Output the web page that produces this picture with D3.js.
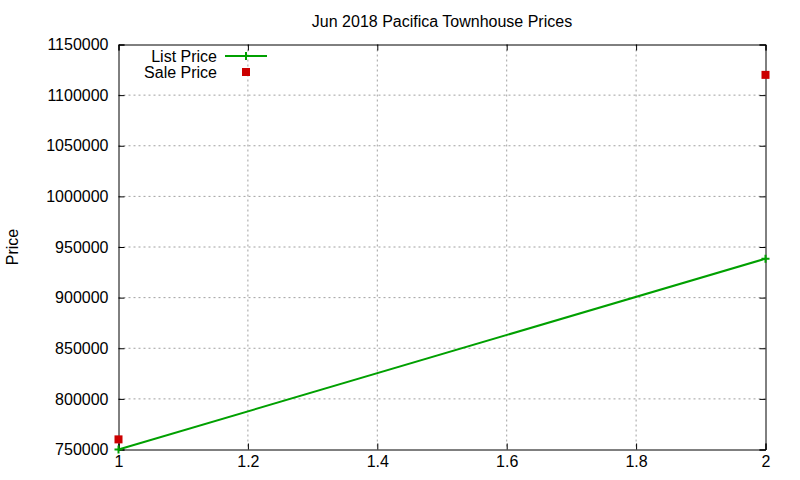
<!DOCTYPE html>
<html>
<head>
<meta charset="utf-8">
<script src="https://cdn.jsdelivr.net/npm/d3@7"></script>
<style>
  body { margin: 0; background: #fff; }
  svg { font-family: "Liberation Sans", Arial, sans-serif; font-size: 16px; }
</style>
</head>
<body>
<div id="chart"></div>
<script>
// data
var listX = [1, 2]
var listPrice = [750000, 938500]
var saleX = [1, 2]
var salePrice = [760000, 1120000]
var xTicks = [1, 1.2, 1.4, 1.6, 1.8, 2]
var yTicks = [750000, 800000, 850000, 900000, 950000, 1000000, 1050000, 1100000, 1150000]

var width = 800, height = 480
var margin = { top: 44.5, right: 34.5, bottom: 30.5, left: 118.5 }
var w = width - margin.left - margin.right
var h = height - margin.top - margin.bottom

var svg = d3.select('#chart').append('svg')
    .attr('width', width)
    .attr('height', height)

var x = d3.scaleLinear().domain([1, 2]).range([0, w])
var y = d3.scaleLinear().domain([750000, 1150000]).range([h, 0])

var g = svg.append('g')
    .attr('transform', 'translate(' + margin.left + ',' + margin.top + ')')

// grid
g.append('g')
    .selectAll('line')
    .data(yTicks.slice(1, -1))
    .enter().append('line')
    .attr('x1', 0).attr('x2', w)
    .attr('y1', d => y(d)).attr('y2', d => y(d))
    .attr('stroke', '#a0a0a0').attr('stroke-dasharray', '2,3')
g.append('g')
    .selectAll('line')
    .data(xTicks.slice(1, -1))
    .enter().append('line')
    .attr('y1', 0).attr('y2', h)
    .attr('x1', d => x(d)).attr('x2', d => x(d))
    .attr('stroke', '#a0a0a0').attr('stroke-dasharray', '2,3')

// axes, ticks pointing inward like gnuplot
g.append('g')
    .call(d3.axisLeft(y).tickValues(yTicks).tickSize(-6).tickPadding(10).tickFormat(d3.format('d')))
g.append('g')
    .attr('transform', 'translate(' + w + ',0)')
    .call(d3.axisRight(y).tickValues(yTicks).tickSize(-6).tickFormat(''))
g.append('g')
    .attr('transform', 'translate(0,' + h + ')')
    .call(d3.axisBottom(x).tickValues(xTicks).tickSize(-6).tickPadding(6).tickFormat(d3.format('')))
g.append('g')
    .call(d3.axisTop(x).tickValues(xTicks).tickSize(-6).tickFormat(''))

g.selectAll('.domain').attr('stroke', '#000').attr('stroke-width', 1)
g.selectAll('.tick line').attr('stroke', '#000')
g.selectAll('.tick text').attr('fill', '#000').style('font-size', '16px')

// list price line
var listData = listX.map((d, i) => [d, listPrice[i]])
g.append('path')
    .datum(listData)
    .attr('fill', 'none')
    .attr('stroke', '#00a000')
    .attr('stroke-width', 2)
    .attr('d', d3.line().x(d => x(d[0])).y(d => y(d[1])))

g.selectAll('.lp')
    .data(listData)
    .enter().append('path')
    .attr('d', 'M-4,0H4M0,-4V4')
    .attr('transform', d => 'translate(' + x(d[0]) + ',' + y(d[1]) + ')')
    .attr('stroke', '#00a000')
    .attr('stroke-width', 2)

// sale price points
g.selectAll('.sp')
    .data(saleX.map((d, i) => [d, salePrice[i]]))
    .enter().append('rect')
    .attr('x', d => x(d[0]) - 4)
    .attr('y', d => y(d[1]) - 4)
    .attr('width', 8).attr('height', 8)
    .attr('fill', '#cc0000')

// title
svg.append('text')
    .attr('x', margin.left + w / 2)
    .attr('y', 27)
    .attr('text-anchor', 'middle')
    .text('Jun 2018 Pacifica Townhouse Prices')

// y label
svg.append('text')
    .attr('transform', 'translate(18,' + (margin.top + h / 2) + ') rotate(-90)')
    .attr('text-anchor', 'middle')
    .text('Price')

// legend
var leg = svg.append('g')
leg.append('text').attr('x', 217).attr('y', 62).attr('text-anchor', 'end')
    .text('List Price')
leg.append('line').attr('x1', 225).attr('x2', 267).attr('y1', 56).attr('y2', 56)
    .attr('stroke', '#00a000').attr('stroke-width', 2)
leg.append('path').attr('d', 'M-4,0H4M0,-4V4')
    .attr('transform', 'translate(246,56)')
    .attr('stroke', '#00a000').attr('stroke-width', 2)
leg.append('text').attr('x', 217).attr('y', 78).attr('text-anchor', 'end')
    .text('Sale Price')
leg.append('rect').attr('x', 242).attr('y', 68).attr('width', 8).attr('height', 8)
    .attr('fill', '#cc0000')
</script>
</body>
</html>
